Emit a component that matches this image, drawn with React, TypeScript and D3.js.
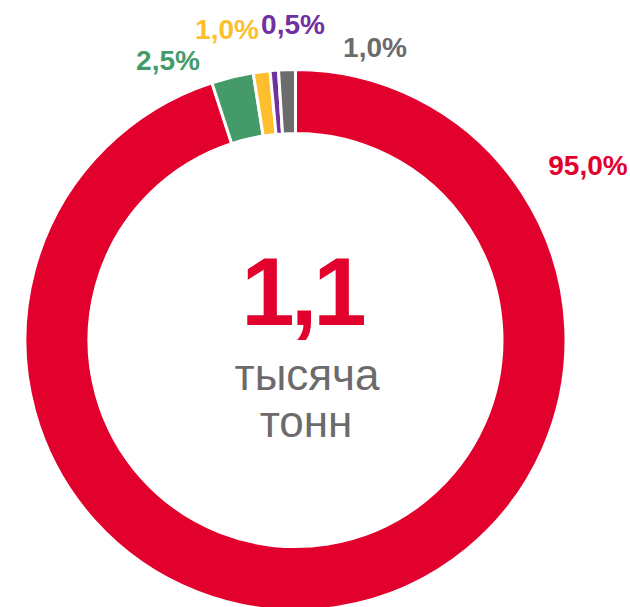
import React, { useEffect, useRef } from 'react';
import * as d3 from 'd3';

// Shares of the total, clockwise from 12 o'clock
const labels = ['95,0%', '2,5%', '1,0%', '0,5%', '1,0%'];
const values = [95.0, 2.5, 1.0, 0.5, 1.0];
const colors = ['#e2002c', '#449b69', '#fdbf2d', '#7030a0', '#6b6b6b'];
// where each percentage label sits
const labelPos = [
  { x: 588, y: 175 },
  { x: 168, y: 70 },
  { x: 227, y: 39 },
  { x: 293, y: 34 },
  { x: 375, y: 57 }
];

const App = () => {
  const ref = useRef<HTMLDivElement>(null);

  useEffect(() => {
    const width = 630;
    const height = 607;
    const cx = 295.5;
    const cy = 340;
    const outer = 270.5;
    const inner = 206.5;

    const root = d3.select(ref.current);
    root.selectAll('*').remove();

    const svg = root
      .append('svg')
      .attr('width', width)
      .attr('height', height)
      .style('position', 'absolute')
      .style('left', 0)
      .style('top', 0)
      .style('font-family', 'Liberation Sans, Arial, sans-serif');

    const data = values.map((v, i) => ({ v, label: labels[i], color: colors[i] }));

    const pie = d3.pie<any>().value(d => d.v).sort(null);
    const arc = d3.arc<any>().innerRadius(inner).outerRadius(outer);

    const g = svg.append('g').attr('transform', `translate(${cx},${cy})`);

    g.selectAll('path')
      .data(pie(data))
      .enter()
      .append('path')
      .attr('d', arc)
      .attr('fill', d => d.data.color)
      .attr('stroke', 'white')
      .style('stroke-width', '3px');

    svg.selectAll('text.pct')
      .data(data)
      .enter()
      .append('text')
      .attr('class', 'pct')
      .attr('x', (d, i) => labelPos[i].x)
      .attr('y', (d, i) => labelPos[i].y)
      .attr('text-anchor', 'middle')
      .attr('font-size', 28)
      .attr('font-weight', 'bold')
      .attr('fill', d => d.color)
      .text(d => d.label);

    // center total
    svg.append('text')
      .attr('x', 302)
      .attr('y', 325)
      .attr('text-anchor', 'middle')
      .attr('font-size', 96)
      .attr('font-weight', 'bold')
      .attr('letter-spacing', -4)
      .attr('fill', '#e2002c')
      .text('1,1');

    svg.append('text')
      .attr('x', 307)
      .attr('y', 390)
      .attr('text-anchor', 'middle')
      .attr('font-size', 44)
      .attr('fill', '#6b6b6b')
      .text('тысяча');

    svg.append('text')
      .attr('x', 306)
      .attr('y', 437)
      .attr('text-anchor', 'middle')
      .attr('font-size', 44)
      .attr('fill', '#6b6b6b')
      .text('тонн');

    return () => {
      root.selectAll('*').remove();
    };
  }, []);

  return <div ref={ref}></div>;
};

export default App;
